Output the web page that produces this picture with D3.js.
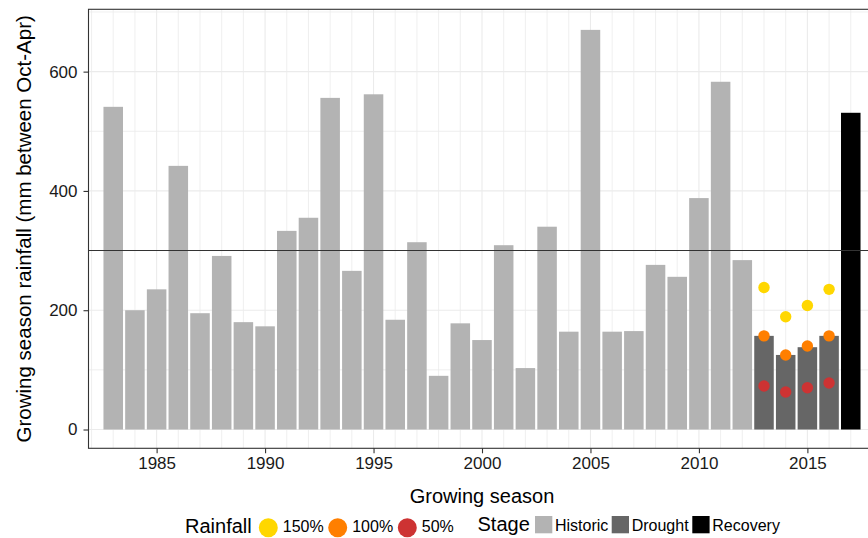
<!DOCTYPE html>
<html>
<head>
<meta charset="utf-8">
<script src="https://cdn.jsdelivr.net/npm/d3@7"></script>
<style>
  html, body { margin: 0; padding: 0; background: #fff; }
  svg { display: block; font-family: "Liberation Sans", Arial, sans-serif; }
</style>
</head>
<body>
<svg id="chart" width="868" height="538"></svg>
<script>
// Growing seasons and their Oct–Apr rainfall (mm)
const seasons = [1983, 1984, 1985, 1986, 1987, 1988, 1989, 1990, 1991, 1992,
                 1993, 1994, 1995, 1996, 1997, 1998, 1999, 2000, 2001, 2002,
                 2003, 2004, 2005, 2006, 2007, 2008, 2009, 2010, 2011, 2012,
                 2013, 2014, 2015, 2016, 2017];
const rainfall = [541, 200, 235, 442, 195, 291, 180, 173, 333, 355,
                  556, 266, 562, 184, 314, 90, 178, 150, 309, 103,
                  340, 164, 670, 164, 165, 276, 256, 388, 583, 284,
                  157, 125, 138, 157, 531];
const stages = ["Historic", "Historic", "Historic", "Historic", "Historic", "Historic", "Historic", "Historic", "Historic", "Historic",
                "Historic", "Historic", "Historic", "Historic", "Historic", "Historic", "Historic", "Historic", "Historic", "Historic",
                "Historic", "Historic", "Historic", "Historic", "Historic", "Historic", "Historic", "Historic", "Historic", "Historic",
                "Drought", "Drought", "Drought", "Drought", "Recovery"];

// Rainfall treatment levels during the drought seasons
const treatmentSeasons = [2013, 2014, 2015, 2016];
const rain150 = [238, 189, 208, 235];
const rain100 = [157, 125, 140, 157];
const rain50  = [73, 63, 70, 78];

const stageNames = ["Historic", "Drought", "Recovery"];
const stageColors = ["#B3B3B3", "#666666", "#000000"];
const rainLabels = ["150%", "100%", "50%"];
const rainColors = ["#FFD700", "#FF7F00", "#CD3333"];

const xTicks = [1985, 1990, 1995, 2000, 2005, 2010, 2015];
const yTicks = [0, 200, 400, 600];
const yMinor = [100, 300, 500, 700];
const referenceRain = 300;

const svg = d3.select("#chart");
const panel = { left: 88.5, right: 875.5, top: 9.3, bottom: 448.3 };

const x = d3.scaleLinear().domain([1981.86, 2018.14]).range([panel.left, panel.right]);
const y = d3.scaleLinear().domain([-31.5, 704.5]).range([panel.bottom, panel.top]);
const stageColor = d3.scaleOrdinal().domain(stageNames).range(stageColors);
const barW = (x(1) - x(0)) * 0.9;

const rows = seasons.map((s, i) => ({ season: s, rain: rainfall[i], stage: stages[i] }));

// Panel background and grid
const g = svg.append("g");
g.append("rect").attr("x", panel.left).attr("y", panel.top)
  .attr("width", panel.right - panel.left).attr("height", panel.bottom - panel.top)
  .attr("fill", "#fff");

const yearGrid = d3.range(1982, 2019);
g.selectAll(".vgrid").data(yearGrid).join("line")
  .attr("x1", d => x(d)).attr("x2", d => x(d))
  .attr("y1", panel.top).attr("y2", panel.bottom)
  .attr("stroke", "#EBEBEB").attr("stroke-width", d => d % 5 === 0 ? 1.1 : 0.8);

g.selectAll(".hminor").data(yMinor).join("line")
  .attr("x1", panel.left).attr("x2", panel.right)
  .attr("y1", d => y(d)).attr("y2", d => y(d))
  .attr("stroke", "#EBEBEB").attr("stroke-width", 0.8);
g.selectAll(".hmajor").data(yTicks).join("line")
  .attr("x1", panel.left).attr("x2", panel.right)
  .attr("y1", d => y(d)).attr("y2", d => y(d))
  .attr("stroke", "#EBEBEB").attr("stroke-width", 1.1);

// Bars
g.selectAll(".bar").data(rows).join("rect")
  .attr("x", d => x(d.season) - barW / 2)
  .attr("width", barW)
  .attr("y", d => y(d.rain))
  .attr("height", d => y(0) - y(d.rain))
  .attr("fill", d => stageColor(d.stage));

// Reference line
g.append("line")
  .attr("x1", panel.left).attr("x2", panel.right)
  .attr("y1", y(referenceRain)).attr("y2", y(referenceRain))
  .attr("stroke", "#333").attr("stroke-width", 1.1);

// Treatment points
const treatments = [rain150, rain100, rain50];
treatments.forEach((vals, k) => {
  g.selectAll(".pt" + k).data(treatmentSeasons.map((s, i) => ({ s, v: vals[i] }))).join("circle")
    .attr("cx", d => x(d.s)).attr("cy", d => y(d.v)).attr("r", 5.7)
    .attr("fill", rainColors[k]);
});

// Panel border
g.append("rect").attr("x", panel.left).attr("y", panel.top)
  .attr("width", panel.right - panel.left).attr("height", panel.bottom - panel.top)
  .attr("fill", "none").attr("stroke", "#333").attr("stroke-width", 1.1);

// Axes
const xAxis = d3.axisBottom(x).tickValues(xTicks).tickFormat(d3.format("d")).tickSize(5).tickPadding(4);
const yAxis = d3.axisLeft(y).tickValues(yTicks).tickSize(5).tickPadding(6);

const xa = svg.append("g").attr("transform", `translate(0,${panel.bottom})`).call(xAxis);
const ya = svg.append("g").attr("transform", `translate(${panel.left},0)`).call(yAxis);
[xa, ya].forEach(a => {
  a.select(".domain").remove();
  a.selectAll(".tick line").attr("stroke", "#333").attr("stroke-width", 1.1);
  a.selectAll(".tick text").attr("fill", "#1a1a1a").style("font-size", "17px")
    .style("font-family", "'Liberation Sans', Arial, sans-serif");
});

// Axis titles
svg.append("text").attr("x", (panel.left + panel.right) / 2).attr("y", 503)
  .attr("text-anchor", "middle").style("font-size", "20px").attr("fill", "#000")
  .text("Growing season");
svg.append("text")
  .attr("transform", `translate(30.5,${(panel.top + panel.bottom) / 2}) rotate(-90)`)
  .attr("text-anchor", "middle").style("font-size", "20.5px").attr("fill", "#000")
  .text("Growing season rainfall (mm between Oct-Apr)");

// Legends
const leg = svg.append("g");
leg.append("text").attr("x", 185).attr("y", 533.3).style("font-size", "20px").text("Rainfall");
const rainKeyX = [268.3, 337.7, 407.3];
rainLabels.forEach((lab, i) => {
  leg.append("circle").attr("cx", rainKeyX[i]).attr("cy", 527.8).attr("r", 9.5).attr("fill", rainColors[i]);
  leg.append("text").attr("x", rainKeyX[i] + 14.5).attr("y", 532.3)
    .style("font-size", "16px").text(lab);
});

leg.append("text").attr("x", 477.5).attr("y", 530.7).style("font-size", "20px").text("Stage");
const stageKeyX = [535, 611.7, 692.3];
stageNames.forEach((lab, i) => {
  leg.append("rect").attr("x", stageKeyX[i]).attr("y", 516).attr("width", 17.3).attr("height", 17.3)
    .attr("fill", stageColors[i]);
  leg.append("text").attr("x", stageKeyX[i] + 20).attr("y", 531)
    .style("font-size", "16px").text(lab);
});
</script>
</body>
</html>
